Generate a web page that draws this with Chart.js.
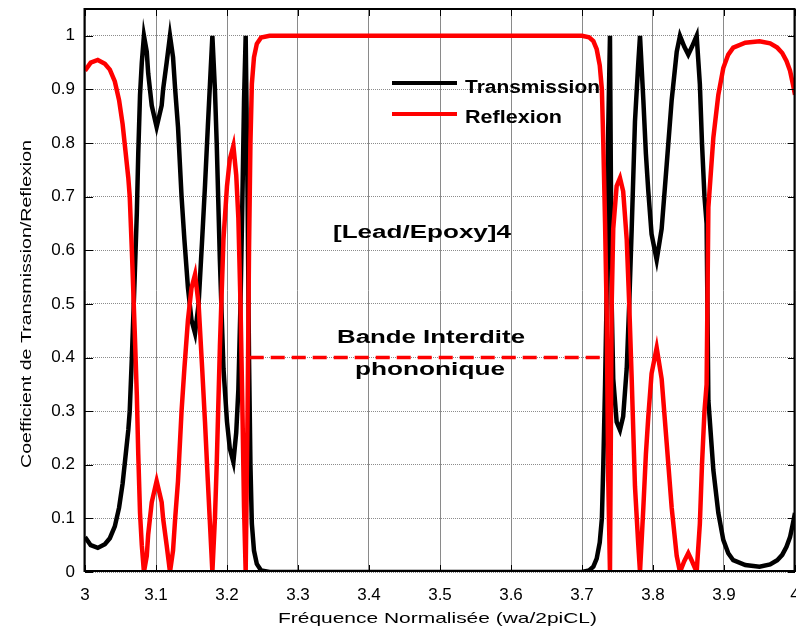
<!DOCTYPE html>
<html>
<head>
<meta charset="utf-8">
<script src="https://cdn.jsdelivr.net/npm/chart.js@4.4.1/dist/chart.umd.min.js"></script>
<style>
html,body{margin:0;padding:0;background:#fff;overflow:hidden;}
canvas{display:block;}
</style>
</head>
<body>
<canvas id="c" width="796" height="632"></canvas>
<script>
// ---- data ----
const freq = [3.000,3.008,3.018,3.028,3.035,3.042,3.048,3.053,3.057,3.061,3.063,3.066,3.070,3.073,3.075,3.0775,3.080,3.083,
  3.087,3.089,3.094,3.1009,3.108,3.110,3.115,3.1197,3.124,3.127,3.131,3.136,3.140,3.145,3.150,3.155,3.160,3.165,3.169,3.173,3.176,3.1794,
  3.183,3.1855,3.190,3.195,3.200,3.204,3.209,3.213,3.216,3.219,3.2215,3.224,3.2263,3.229,3.231,3.233,3.235,3.238,3.242,3.248,3.260,
  3.700,3.710,3.716,3.7207,3.725,3.728,3.730,3.7325,3.7348,3.737,3.7394,3.7418,3.744,3.7488,3.7535,3.758,3.763,3.7665,3.770,3.7746,3.7793,3.7817,
  3.7864,3.790,3.7934,3.798,3.8052,3.8122,3.8193,3.8263,3.8334,3.838,3.844,3.8497,3.855,3.8615,3.866,3.869,3.8725,3.8755,3.878,3.885,3.892,3.899,
  3.906,3.913,3.930,3.950,3.965,3.975,3.982,3.988,3.993,3.997,4.000];
const transmission = [0.065,0.05,0.045,0.052,0.063,0.085,0.12,0.165,0.215,0.265,0.30,0.40,0.55,0.67,0.78,0.89,0.95,1.0,
  0.97,0.93,0.87,0.83,0.87,0.90,0.95,1.0,0.96,0.90,0.83,0.70,0.62,0.53,0.47,0.445,0.50,0.62,0.72,0.83,0.91,1.0,
  0.90,0.80,0.58,0.38,0.28,0.23,0.205,0.26,0.34,0.50,0.68,0.88,1.0,0.70,0.40,0.20,0.09,0.04,0.015,0.003,0.0,
  0.0,0.003,0.01,0.025,0.055,0.10,0.20,0.35,0.52,0.83,1.0,0.50,0.36,0.28,0.265,0.29,0.38,0.50,0.64,0.84,0.95,1.0,
  0.88,0.78,0.71,0.63,0.582,0.64,0.76,0.88,0.97,1.0,0.98,0.965,0.98,1.0,0.91,0.80,0.70,0.65,0.32,0.19,0.11,0.06,
  0.035,0.022,0.013,0.01,0.014,0.022,0.032,0.047,0.065,0.09,0.11];
const reflexion = [0.935,0.95,0.955,0.948,0.937,0.915,0.88,0.835,0.785,0.735,0.70,0.60,0.45,0.33,0.22,0.11,0.05,0.0,
  0.03,0.07,0.13,0.17,0.13,0.10,0.05,0.0,0.04,0.10,0.17,0.30,0.38,0.47,0.53,0.555,0.50,0.38,0.28,0.17,0.09,0.0,
  0.10,0.20,0.42,0.62,0.72,0.77,0.795,0.74,0.66,0.50,0.32,0.12,0.0,0.30,0.60,0.80,0.91,0.96,0.985,0.997,1.0,
  1.0,0.997,0.99,0.975,0.945,0.90,0.80,0.65,0.48,0.17,0.0,0.50,0.64,0.72,0.735,0.71,0.62,0.50,0.36,0.16,0.05,0.0,
  0.12,0.22,0.29,0.37,0.418,0.36,0.24,0.12,0.03,0.0,0.02,0.035,0.02,0.0,0.09,0.20,0.30,0.35,0.68,0.81,0.89,0.94,
  0.965,0.978,0.987,0.99,0.986,0.978,0.968,0.953,0.935,0.91,0.89];
const gapX = [3.232, 3.733];
const gapY = [0.4, 0.4];
const xTicks = [3,3.1,3.2,3.3,3.4,3.5,3.6,3.7,3.8,3.9,4];
const yTicks = [0,0.1,0.2,0.3,0.4,0.5,0.6,0.7,0.8,0.9,1];
const seriesNames = ['Transmission','Reflexion'];
const titleText = '[Lead/Epoxy]4';
const gapText = ['Bande Interdite','phononique'];
const xTitle = 'Fréquence Normalisée (wa/2piCL)';
const yTitle = 'Coefficient de Transmission/Reflexion';

const FONT = '"Liberation Sans", Arial, sans-serif';

function fitText(ctx, text, left, baseline, width, size, weight) {
  ctx.font = weight + ' ' + size + 'px ' + FONT;
  const w = ctx.measureText(text).width;
  ctx.save();
  ctx.translate(left, baseline);
  ctx.scale(width / w, 1);
  ctx.textAlign = 'left';
  ctx.textBaseline = 'alphabetic';
  ctx.fillStyle = '#000';
  ctx.fillText(text, 0, 0);
  ctx.restore();
}

const decor = {
  id: 'decor',
  afterDraw(chart) {
    const {ctx, chartArea: a, scales: {x, y}} = chart;
    ctx.save();
    // frame
    ctx.strokeStyle = '#000';
    ctx.lineWidth = 2;
    ctx.strokeRect(a.left - 0.5, a.top, a.right - a.left, a.bottom - a.top - 1);
    // inside ticks
    ctx.lineWidth = 1;
    ctx.beginPath();
    xTicks.forEach(v => {
      const px = Math.round(x.getPixelForValue(v)) + 0.5;
      ctx.moveTo(px, a.bottom); ctx.lineTo(px, a.bottom - 7);
      ctx.moveTo(px, a.top); ctx.lineTo(px, a.top + 7);
    });
    yTicks.forEach(v => {
      const py = Math.round(y.getPixelForValue(v)) + 0.5;
      ctx.moveTo(a.left, py); ctx.lineTo(a.left + 8, py);
      ctx.moveTo(a.right, py); ctx.lineTo(a.right - 7, py);
    });
    ctx.stroke();
    // legend
    ctx.lineWidth = 4;
    ctx.strokeStyle = '#000';
    ctx.beginPath(); ctx.moveTo(392, 83); ctx.lineTo(457, 83); ctx.stroke();
    ctx.strokeStyle = '#ff0000';
    ctx.beginPath(); ctx.moveTo(392, 114); ctx.lineTo(457, 114); ctx.stroke();
    fitText(ctx, seriesNames[0], 465, 93, 135, 17.5, 'bold');
    fitText(ctx, seriesNames[1], 465, 123, 97, 17.5, 'bold');
    // annotations
    fitText(ctx, titleText, 333, 238, 178, 17.5, 'bold');
    fitText(ctx, gapText[0], 337, 343, 188, 17.5, 'bold');
    fitText(ctx, gapText[1], 355, 375, 150, 17.5, 'bold');
    // axis titles
    fitText(ctx, xTitle, 278, 623, 319, 15, 'normal');
    ctx.save();
    ctx.translate(31, 468);
    ctx.rotate(-Math.PI / 2);
    fitText(ctx, yTitle, 0, 0, 328, 15, 'normal');
    ctx.restore();
    ctx.restore();
  }
};

const fmt = v => String(+Number(v).toFixed(1));
const noPad = s => { s.paddingLeft = 0; s.paddingRight = 0; s.paddingTop = 0; s.paddingBottom = 0; };

new Chart(document.getElementById('c'), {
  type: 'line',
  data: {
    datasets: [
      {
        label: 'Bande Interdite',
        data: gapX.map((v, i) => ({x: v, y: gapY[i]})),
        borderColor: '#ff0000', borderWidth: 3.5, borderDash: [14, 7],
        pointRadius: 0, tension: 0, fill: false, order: 0
      },
      {
        label: seriesNames[1],
        data: freq.map((v, i) => ({x: v, y: reflexion[i]})),
        borderColor: '#ff0000', borderWidth: 4.5,
        pointRadius: 0, tension: 0, fill: false, order: 1
      },
      {
        label: seriesNames[0],
        data: freq.map((v, i) => ({x: v, y: transmission[i]})),
        borderColor: '#000000', borderWidth: 4.5,
        pointRadius: 0, tension: 0, fill: false, order: 2
      }
    ]
  },
  options: {
    responsive: false,
    animation: false,
    devicePixelRatio: 1,
    layout: { autoPadding: false, padding: { top: 9, right: 1, left: 0, bottom: 0 } },
    plugins: { legend: { display: false }, tooltip: { enabled: false } },
    scales: {
      x: {
        type: 'linear', min: 3, max: 4,
        afterBuildTicks: s => { s.ticks = xTicks.map(v => ({value: v})); },
        afterFit: s => { s.height = 60; noPad(s); },
        grid: { color: '#8a8a8a', lineWidth: 1, drawTicks: false },
        border: { display: false },
        ticks: { color: '#000', padding: 13, font: { family: FONT, size: 17 }, callback: fmt, maxRotation: 0 }
      },
      y: {
        type: 'linear', min: 0, max: 1.05,
        afterBuildTicks: s => { s.ticks = yTicks.map(v => ({value: v})); },
        afterFit: s => { s.width = 85; noPad(s); },
        grid: { color: '#8c8c8c', lineWidth: 1, drawTicks: false },
        border: { display: false, dash: [1, 1] },
        ticks: { color: '#000', padding: 10, font: { family: FONT, size: 17 }, callback: fmt }
      }
    }
  },
  plugins: [decor]
});
</script>
</body>
</html>
